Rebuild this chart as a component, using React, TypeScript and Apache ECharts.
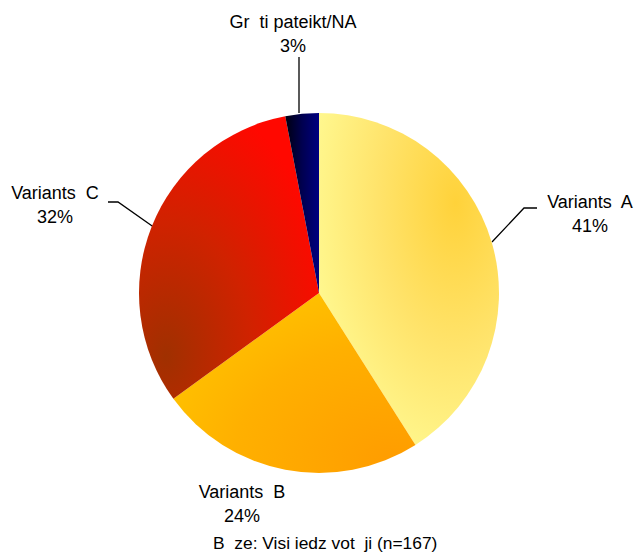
import React, { useEffect, useRef } from "react";
import * as echarts from "echarts";

const categories = ["Variants  A", "Variants  B", "Variants  C", "Gr  ti pateikt/NA"];
const values = [41, 24, 32, 3];
const footnote = "B  ze: Visi iedz vot  ji (n=167)";

const fills: any[] = [
  { kind: "radial", x: 0.76, y: 0.27, r: 0.95, stops: [[0, "#ffd23a"], [0.45, "#ffe36a"], [1, "#ffff9c"]] },
  { kind: "radial", x: 0.92, y: 0.95, r: 1.35, stops: [[0, "#ff9c00"], [0.5, "#ffb000"], [1, "#ffd000"]] },
  { kind: "radial", x: 0.15, y: 0.85, r: 0.95, stops: [[0, "#a03000"], [0.5, "#d02200"], [1, "#ff0800"]] },
  { kind: "linear", x: 0, y: 0, x2: 1, y2: 0, stops: [[0, "#000010"], [0.5, "#000050"], [1, "#000080"]] },
];

const labelPos = [
  { x: 590, y: 214, line: [[492, 242], [524, 208], [537, 208]] },
  { x: 242, y: 504, line: null },
  { x: 55, y: 205, line: [[155, 228], [118, 202], [108, 202]] },
  { x: 293, y: 34, line: [[299, 113], [299, 85], [299, 57]] },
];

export default function App() {
  const ref = useRef<HTMLDivElement>(null);
  useEffect(() => {
    document.body.style.margin = "0";
    const chart = echarts.init(ref.current!, null, { renderer: "svg" });
    const data = categories.map((name, i) => {
      const g = fills[i];
      const stops = g.stops.map((s: any) => ({ offset: s[0], color: s[1] }));
      const color =
        g.kind === "radial"
          ? new echarts.graphic.RadialGradient(g.x, g.y, g.r, stops)
          : new echarts.graphic.LinearGradient(g.x, g.y, g.x2, g.y2, stops);
      return {
        name,
        value: values[i],
        itemStyle: { color },
        labelLine: { show: !!labelPos[i].line },
      };
    });
    chart.setOption({
      animation: false,
      backgroundColor: "#ffffff",
      graphic: [
        {
          type: "text",
          left: 213,
          top: 534,
          style: {
            text: footnote,
            font: '17.4px "Liberation Sans", Arial, sans-serif',
            fill: "#000",
          },
        },
      ],
      series: [
        {
          type: "pie",
          center: [319, 293],
          radius: [0, 180],
          startAngle: 90,
          clockwise: true,
          data,
          label: {
            show: true,
            formatter: "{b}\n{d}%",
            fontFamily: '"Liberation Sans", Arial, sans-serif',
            fontSize: 18,
            lineHeight: 24,
            color: "#000",
            align: "center",
          },
          labelLine: {
            show: true,
            lineStyle: { color: "#000", width: 1.3 },
          },
          labelLayout: (params: any) => {
            const p = labelPos[params.dataIndex];
            const out: any = {
              x: p.x,
              y: p.y,
              align: "center",
              verticalAlign: "middle",
            };
            if (p.line) out.labelLinePoints = p.line;
            return out;
          },
          emphasis: { disabled: true },
        },
      ],
    });
    return () => chart.dispose();
  }, []);
  return <div ref={ref} style={{ width: 641, height: 552 }} />;
}
